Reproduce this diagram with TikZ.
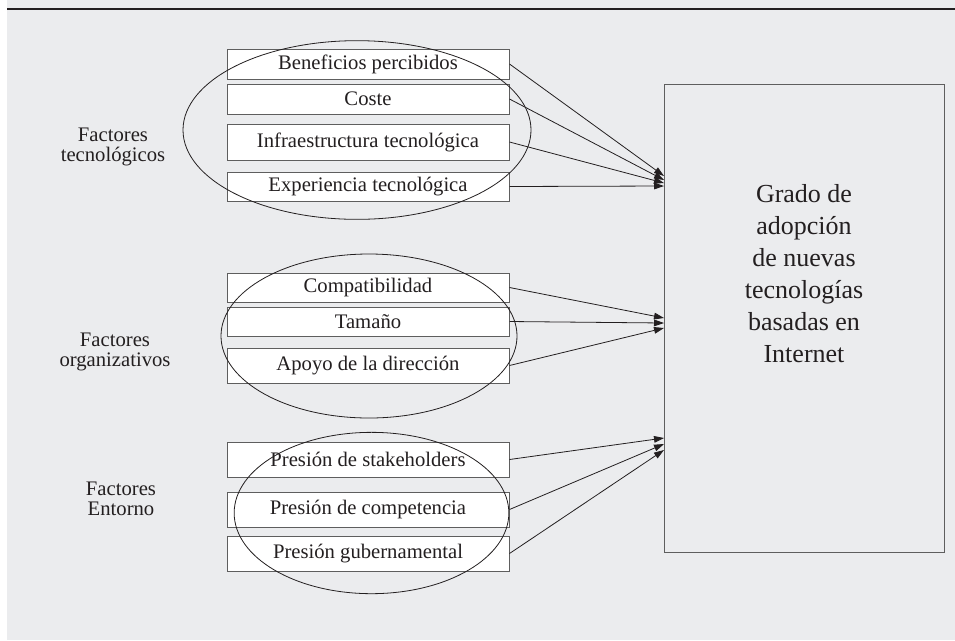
\documentclass[tikz,border=0pt]{standalone}
\usepackage{fontspec}
\setmainfont{Liberation Serif}
\usetikzlibrary{arrows.meta,shapes.geometric}
\definecolor{panel}{HTML}{EBECEE}
\definecolor{edge}{HTML}{5E5E5E}
\definecolor{ink}{HTML}{231F20}
\begin{document}
\begin{tikzpicture}[x=0.75pt,y=-0.75pt,
  factor/.style={draw=edge, fill=white, line width=0.75pt, minimum width=211.5pt,
                 inner sep=0pt, text=ink, font=\fontsize{15.5}{18}\selectfont},
  group/.style={draw=ink, line width=0.6pt, ellipse, inner sep=0pt},
  link/.style={draw=ink, line width=0.6pt, -{Triangle[length=7.5pt,width=5pt]}},
  sidelabel/.style={align=center, text=ink, font=\fontsize{15.5}{15}\selectfont},
  goalbox/.style={draw=edge, line width=0.75pt, inner sep=0pt}]

% page and panel
\useasboundingbox (0,0) rectangle (955,640);
\fill[white] (0,0) rectangle (955,640);
\fill[panel] (7,0) rectangle (955,640);
\draw[ink, line width=1.3pt] (7,9) -- (955,9);

% factor boxes
\node[factor, minimum height=22.5pt]  (ben) at (368,64)    {Beneficios percibidos};
\node[factor, minimum height=22.5pt]  (cos) at (368,99)    {Coste};
\node[factor, minimum height=27pt]    (inf) at (368,142)   {Infraestructura tecnológica};
\node[factor, minimum height=21.75pt] (exp) at (368,186.5) {Experiencia tecnológica};

\node[factor, minimum height=21.75pt] (com) at (368,287.5) {Compatibilidad};
\node[factor, minimum height=21.75pt] (tam) at (368,321.5) {Tamaño};
\node[factor, minimum height=26.25pt] (apo) at (368,365.5) {Apoyo de la dirección};

\node[factor, minimum height=26.25pt] (sta) at (368,459.5) {Presión de stakeholders};
\node[factor, minimum height=26.25pt] (cmp) at (368,509.5) {Presión de competencia};
\node[factor, minimum height=26.25pt] (gub) at (368,553.5) {Presión gubernamental};

% grouping ellipses
\node[group, minimum width=261pt, minimum height=134pt] (gtec) at (357,130) {};
\node[group, minimum width=222pt, minimum height=123pt] (gorg) at (369,336) {};
\node[group, minimum width=206pt, minimum height=121pt] (gent) at (371.5,513) {};

% group labels
\node[sidelabel] (ltec) at (113,147) {Factores\\tecnológicos};
\node[sidelabel] (lorg) at (115,352) {Factores\\organizativos};
\node[sidelabel] (lent) at (121,499) {Factores\\Entorno};

% outcome box
\node[goalbox, minimum width=210pt, minimum height=351pt] (goal) at (804,318) {};
\node[align=center, text=ink, font=\fontsize{19.5}{24}\selectfont] (goaltext) at (804,274)
  {Grado de\\adopción\\de nuevas\\tecnologías\\basadas en\\Internet};

% arrow targets on the outcome box
\coordinate (t1) at (664,176);
\coordinate (t2) at (664,180);
\coordinate (t3) at (664,183);
\coordinate (t4) at (664,186);
\coordinate (t5) at (664,318);
\coordinate (t6) at (664,323);
\coordinate (t7) at (664,328);
\coordinate (t8) at (664,438);
\coordinate (t9) at (664,444);
\coordinate (t10) at (664,450);

\draw[link] (ben.east) -- (t1);
\draw[link] (cos.east) -- (t2);
\draw[link] (inf.east) -- (t3);
\draw[link] (exp.east) -- (t4);
\draw[link] (com.east) -- (t5);
\draw[link] (tam.east) -- (t6);
\draw[link] (apo.east) -- (t7);
\draw[link] (sta.east) -- (t8);
\draw[link] (cmp.east) -- (t9);
\draw[link] (gub.east) -- (t10);
\end{tikzpicture}
\end{document}
